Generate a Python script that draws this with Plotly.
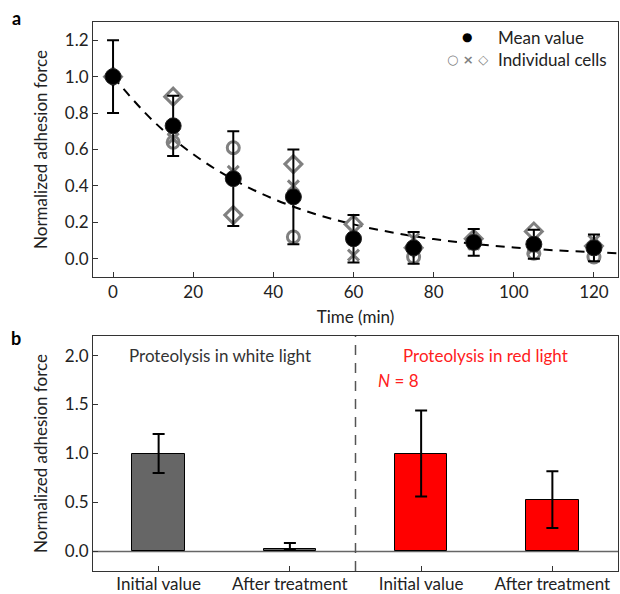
import plotly.graph_objects as go

# ---------------- data: panel a ----------------
time_min = [0, 15, 30, 45, 60, 75, 90, 105, 120]
mean_val = [1.0, 0.73, 0.44, 0.34, 0.11, 0.06, 0.09, 0.08, 0.06]
mean_err = [0.20, 0.165, 0.26, 0.26, 0.13, 0.087, 0.073, 0.08, 0.074]
cell_circle = [1.0, 0.64, 0.61, 0.12, 0.11, 0.01, 0.09, 0.03, 0.01]
cell_cross = [1.0, 0.66, 0.48, 0.40, 0.02, 0.11, 0.08, 0.06, 0.10]
cell_diamond = [1.0, 0.89, 0.24, 0.52, 0.19, 0.06, 0.11, 0.15, 0.07]
fit_t = [0, 10, 20, 30, 40, 50, 60, 70, 80, 90, 100, 110, 120, 126]
fit_y = [1.0, 0.757, 0.574, 0.435, 0.329, 0.249, 0.189, 0.143, 0.108, 0.082, 0.062, 0.047, 0.036, 0.030]

# ---------------- data: panel b ----------------
b_positions = [0, 1, 2, 3]
b_labels = ["Initial value", "After treatment", "Initial value", "After treatment"]
b_values = [1.0, 0.025, 1.0, 0.53]
b_err_plus = [0.2, 0.06, 0.44, 0.29]
b_err_minus = [0.2, 0.0, 0.44, 0.29]
b_colors = ["#666666", "#666666", "#ff0000", "#ff0000"]

FONT = "Lato"
FS = 17
GRAY = "#808080"
W, H = 620, 594
ML, MR, MT, MB = 93, 2, 22, 23
PH = H - MT - MB

def py(p):
    return (H - MB - p) / PH

def px(p):
    return (p - ML) / (W - ML - MR)

fig = go.Figure()

# fit line
fig.add_trace(go.Scatter(x=fit_t, y=fit_y, mode="lines",
                         line=dict(color="black", width=2, dash="9px,7px", shape="spline"),
                         xaxis="x", yaxis="y", showlegend=False, hoverinfo="skip"))
# individual cells
fig.add_trace(go.Scatter(x=time_min, y=cell_circle, mode="markers",
                         marker=dict(symbol="circle-open", size=12, color=GRAY, line=dict(width=3, color=GRAY)),
                         xaxis="x", yaxis="y", showlegend=False))
fig.add_trace(go.Scatter(x=time_min, y=cell_cross, mode="markers",
                         marker=dict(symbol="x-thin-open", size=11, color=GRAY, line=dict(width=3, color=GRAY)),
                         xaxis="x", yaxis="y", showlegend=False))
fig.add_trace(go.Scatter(x=time_min, y=cell_diamond, mode="markers",
                         marker=dict(symbol="diamond-open", size=13, color=GRAY, line=dict(width=3, color=GRAY)),
                         xaxis="x", yaxis="y", showlegend=False))
# mean
fig.add_trace(go.Scatter(x=time_min, y=mean_val, mode="markers",
                         marker=dict(symbol="circle", size=16, color="black", line=dict(width=1, color="#222")),
                         error_y=dict(type="data", array=mean_err, color="black", thickness=2, width=6),
                         xaxis="x", yaxis="y", showlegend=False))

# panel b bars
fig.add_trace(go.Bar(x=b_positions, y=b_values, width=0.4,
                     marker=dict(color=b_colors, line=dict(color="black", width=1)),
                     error_y=dict(type="data", array=b_err_plus, arrayminus=b_err_minus, symmetric=False,
                                  color="black", thickness=2, width=6),
                     xaxis="x2", yaxis="y2", showlegend=False))

axis_common = dict(showline=True, linecolor="#333", linewidth=1, mirror=True, ticks="inside",
                   ticklen=5, tickcolor="#333", showgrid=False, zeroline=False, automargin=False,
                   tickfont=dict(family=FONT, size=FS, color="#222"))

fig.update_layout(
    width=W, height=H,
    margin=dict(l=ML, r=MR, t=MT, b=MB, autoexpand=False),
    paper_bgcolor="white", plot_bgcolor="white",
    font=dict(family=FONT, size=FS, color="#222"),
    xaxis=dict(domain=[0, 1], range=[-5, 126], tickvals=[0, 20, 40, 60, 80, 100, 120], anchor="y",
               title=dict(text="Time (min)", font=dict(family=FONT, size=FS), standoff=9), **axis_common),
    yaxis=dict(domain=[py(277), 1], range=[-0.1, 1.3], tickvals=[0, 0.2, 0.4, 0.6, 0.8, 1.0, 1.2],
               tickformat=".1f", anchor="x",
               title=dict(text="Normalized adhesion force", font=dict(family=FONT, size=FS), standoff=12),
               **axis_common),
    xaxis2=dict(domain=[0, 1], range=[-0.5, 3.5], tickvals=b_positions, ticktext=b_labels, anchor="y2",
                ticklabelstandoff=-2, **axis_common),
    yaxis2=dict(domain=[0, py(336)], range=[-0.2, 2.2], tickvals=[0, 0.5, 1.0, 1.5, 2.0], tickformat=".1f",
                anchor="x2",
                title=dict(text="Normalized adhesion force", font=dict(family=FONT, size=FS), standoff=12),
                **axis_common),
    bargap=0,
)

# zero line and divider in panel b
fig.add_shape(type="line", xref="x2 domain", yref="y2", x0=0, x1=1, y0=0, y1=0,
              line=dict(color="#666", width=1.5), layer="below")
fig.add_shape(type="line", xref="x2", yref="y2 domain", x0=1.5, x1=1.5, y0=0, y1=1,
              line=dict(color="#555", width=1.5, dash="10px,8px"))

ann = []
# panel labels
ann.append(dict(text="<b>a</b>", x=px(16), y=py(18), xref="paper", yref="paper", showarrow=False,
                font=dict(family=FONT, size=18, color="black"), xanchor="center", yanchor="middle"))
ann.append(dict(text="<b>b</b>", x=px(16), y=py(338), xref="paper", yref="paper", showarrow=False,
                font=dict(family=FONT, size=18, color="black"), xanchor="center", yanchor="middle"))
# legend
ann.append(dict(text="●", x=px(467), y=py(37), xref="paper", yref="paper", showarrow=False,
                font=dict(family="DejaVu Sans", size=12, color="black"), xanchor="center", yanchor="middle"))
ann.append(dict(text="Mean value", x=px(496), y=py(37), xref="paper", yref="paper", showarrow=False,
                font=dict(family=FONT, size=FS, color="#222"), xanchor="left", yanchor="middle"))
ann.append(dict(text="<b>○ × ◇</b>", x=px(467), y=py(59), xref="paper", yref="paper", showarrow=False,
                font=dict(family="DejaVu Sans", size=13, color=GRAY), xanchor="center", yanchor="middle"))
ann.append(dict(text="Individual cells", x=px(496), y=py(59), xref="paper", yref="paper", showarrow=False,
                font=dict(family=FONT, size=FS, color="#222"), xanchor="left", yanchor="middle"))
# panel b texts
ann.append(dict(text="Proteolysis in white light", x=px(220), y=py(355), xref="paper", yref="paper",
                showarrow=False, font=dict(family=FONT, size=FS, color="#333"), xanchor="center", yanchor="middle"))
ann.append(dict(text="Proteolysis in red light", x=px(485), y=py(355), xref="paper", yref="paper",
                showarrow=False, font=dict(family=FONT, size=FS, color="#ff2020"), xanchor="center", yanchor="middle"))
ann.append(dict(text="<i>N</i> = 8", x=px(376), y=py(380), xref="paper", yref="paper",
                showarrow=False, font=dict(family=FONT, size=FS, color="#ff2020"), xanchor="left", yanchor="middle"))
fig.update_layout(annotations=ann)

fig.write_html("out.html", config={"displayModeBar": False},
               post_script="document.body.style.margin='0';document.body.style.overflow='hidden';")
